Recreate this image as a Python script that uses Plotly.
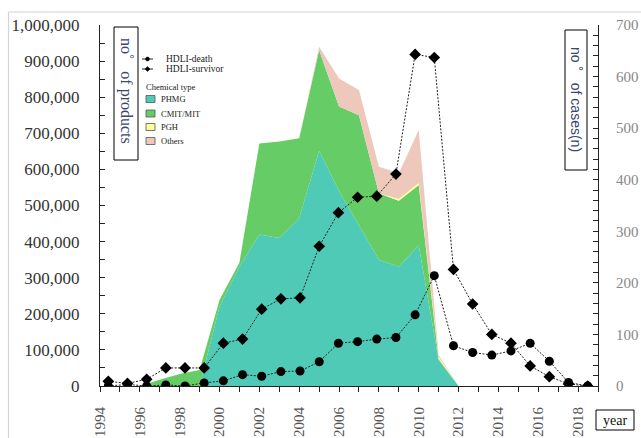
import plotly.graph_objects as go

# ---------------- data ----------------
area_years = list(range(1994, 2020))
phmg  = [0, 0, 0, 0, 0, 0, 220000, 330000, 420000, 410000, 465000, 652000, 540000, 445000,
         350000, 330000, 390000, 72000, 0, 0, 0, 0, 0, 0, 0, 0]
cmit  = [0, 0, 0, 17000, 33000, 44000, 18000, 12000, 252000, 267000, 221000, 278000, 234000, 305000,
         184000, 183000, 167000, 3000, 0, 0, 0, 0, 0, 0, 0, 0]
pgh   = [0, 0, 0, 0, 0, 0, 0, 0, 0, 0, 0, 0, 0, 0,
         0, 5000, 5000, 6000, 0, 0, 0, 0, 0, 0, 0, 0]
other = [0, 0, 0, 0, 0, 0, 0, 0, 0, 0, 0, 10000, 78000, 70000,
         73000, 71000, 147000, 5000, 0, 0, 0, 0, 0, 0, 0, 0]

case_years = list(range(1994, 2020))
death    = [0, 3, 0, 2, 0, 6, 10, 22, 19, 28, 29, 47, 83, 86, 91, 94, 138, 214,
            78, 65, 60, 68, 83, 48, 7, 0]
survivor = [9, 5, 13, 35, 35, 35, 83, 91, 149, 169, 171, 271, 336, 366, 368, 411, 643, 637,
            226, 159, 100, 83, 39, 18, 4, 0]

x_tick_years = list(range(1994, 2019, 2))
left_ticks = list(range(0, 1000001, 100000))
right_ticks = list(range(0, 701, 100))

# ---------------- layout geometry (page pixels; body margin removed) ----------------
W, H = 641, 438
PL, PR, PT, PB = 100, 598, 25, 386
PW, PH = PR - PL, PB - PT


def fx(px):
    return (px - PL) / PW


def fy(py):
    return (PB - py) / PH


SERIF = "Liberation Serif, Times New Roman, serif"
SANS = "Liberation Sans, Arial, sans-serif"

fig = go.Figure()

colors = {"PHMG": "#4FCAB7", "CMIT/MIT": "#66CC66", "PGH": "#FFFF99", "Others": "#EEC8BB"}
for name, vals in [("PHMG", phmg), ("CMIT/MIT", cmit), ("PGH", pgh), ("Others", other)]:
    fig.add_trace(go.Scatter(x=area_years, y=vals, name=name, stackgroup="one", mode="none",
                             fillcolor=colors[name], showlegend=False, hoverinfo="skip"))

fig.add_trace(go.Scatter(x=case_years, y=death, name="HDLI-death", xaxis="x2", yaxis="y2",
                         mode="lines+markers",
                         line=dict(color="#222222", width=1, dash="2px,1.5px"),
                         marker=dict(symbol="circle", size=9, color="black"),
                         showlegend=False))
fig.add_trace(go.Scatter(x=case_years, y=survivor, name="HDLI-survivor", xaxis="x2", yaxis="y2",
                         mode="lines+markers",
                         line=dict(color="#222222", width=1, dash="2px,1.5px"),
                         marker=dict(symbol="diamond", size=9, color="black"),
                         showlegend=False))

shapes = []
annotations = []


def rect(x0, y0, x1, y1, fill="rgba(0,0,0,0)", lc="black", lw=1):
    shapes.append(dict(type="rect", xref="paper", yref="paper", x0=fx(x0), x1=fx(x1),
                       y0=fy(y1), y1=fy(y0), fillcolor=fill, line=dict(color=lc, width=lw),
                       layer="above"))


def hline(x0, x1, y, lc="black", lw=1):
    shapes.append(dict(type="line", xref="paper", yref="paper", x0=fx(x0), x1=fx(x1),
                       y0=fy(y), y1=fy(y), line=dict(color=lc, width=lw), layer="above"))


def vline(x, y0, y1, lc="black", lw=1):
    shapes.append(dict(type="line", xref="paper", yref="paper", x0=fx(x), x1=fx(x),
                       y0=fy(y0), y1=fy(y1), line=dict(color=lc, width=lw), layer="above"))


def text(px, py, s, size, color="#222", family=SERIF, xanchor="left", angle=0):
    annotations.append(dict(xref="paper", yref="paper", x=fx(px), y=fy(py), text=s,
                            showarrow=False, xanchor=xanchor, yanchor="middle",
                            textangle=angle, font=dict(family=family, size=size, color=color)))


# outer chart frame
hline(8.5, 641, 12, lc="#D4D4D4", lw=1.2)
vline(8.5, 12, 438, lc="#D4D4D4", lw=1.2)

# axis title boxes
rect(114, 27, 138, 160)
text(126, 91, "no˚\u00a0\u00a0\u00a0of products", 16, color="#3A4670", xanchor="center", angle=90)
rect(565, 30, 587, 170)
text(576, 99, "no\u00a0˚\u00a0\u00a0\u00a0of cases(n)", 14, color="#3A4670", family=SANS,
     xanchor="center", angle=90)
rect(596, 410, 634, 430)
text(615, 420, "year", 14, color="#111", xanchor="center")

# legend
hline(142, 153, 59, lc="#222", lw=1)
shapes.append(dict(type="circle", xref="paper", yref="paper", x0=fx(145.5), x1=fx(149.5),
                   y0=fy(61), y1=fy(57), fillcolor="black", line=dict(color="black", width=0.5),
                   layer="above"))
hline(142, 153, 69, lc="#222", lw=1)
shapes.append(dict(type="path", xref="paper", yref="paper",
                   path=f"M {fx(147.5)} {fy(66.5)} L {fx(150)} {fy(69)} L {fx(147.5)} {fy(71.5)} "
                        f"L {fx(145)} {fy(69)} Z",
                   fillcolor="black", line=dict(color="black", width=0.5), layer="above"))
text(164, 59, "HDLI-death", 9.5)
text(164, 69, "HDLI-survivor", 9.5)
text(144, 87, "Chemical type", 8.5)
for i, name in enumerate(["PHMG", "CMIT/MIT", "PGH", "Others"]):
    yy = [99, 113.5, 127, 141][i]
    rect(146, yy - 3.5, 155, yy + 3.5, fill=colors[name], lc="#555", lw=0.8)
    text(159, yy, name, 8.5)

fig.update_layout(
    width=W, height=H, autosize=False,
    margin=dict(l=PL, r=W - PR, t=PT, b=H - PB, autoexpand=False),
    paper_bgcolor="white", plot_bgcolor="white",
    showlegend=False,
    shapes=shapes, annotations=annotations,
    xaxis=dict(range=[1994, 2019], tickmode="array", tickvals=x_tick_years,
               ticktext=[str(y) for y in x_tick_years], tickangle=-90, automargin=False,
               ticks="outside", ticklen=5, tickcolor="#222", showline=True, linecolor="#222",
               linewidth=1, showgrid=False, zeroline=False,
               minor=dict(dtick=1, tick0=1994, ticks="outside", ticklen=5, tickcolor="#222",
                          showgrid=False),
               tickfont=dict(family=SERIF, size=15, color="#555"), ticklabelstandoff=9),
    yaxis=dict(range=[0, 1000000], tickmode="array", tickvals=left_ticks,
               ticktext=[f"{v:,}" for v in left_ticks], automargin=False,
               ticks="inside", ticklen=5, tickcolor="#222", showline=True, linecolor="#222",
               linewidth=1, showgrid=False, zeroline=False,
               minor=dict(dtick=50000, ticks="inside", ticklen=5, tickcolor="#222", showgrid=False),
               tickfont=dict(family=SERIF, size=17, color="#333"), ticklabelstandoff=16),
    xaxis2=dict(overlaying="x", anchor="y2", range=[1993.567, 2019.537], visible=False,
                showgrid=False, zeroline=False, automargin=False),
    yaxis2=dict(overlaying="y", side="right", anchor="x2", range=[0, 700], tickmode="array",
                tickvals=right_ticks, ticks="inside", ticklen=5, tickcolor="#222", automargin=False,
                showline=True, linecolor="#222", linewidth=1, showgrid=False, zeroline=False,
                minor=dict(dtick=20, ticks="inside", ticklen=5, tickcolor="#222", showgrid=False),
                tickfont=dict(family=SERIF, size=15, color="#888"), ticklabelstandoff=14),
)

fig.write_html("out.html", config={"displayModeBar": False},
               post_script="document.body.style.margin='0';document.body.style.overflow='hidden';")
